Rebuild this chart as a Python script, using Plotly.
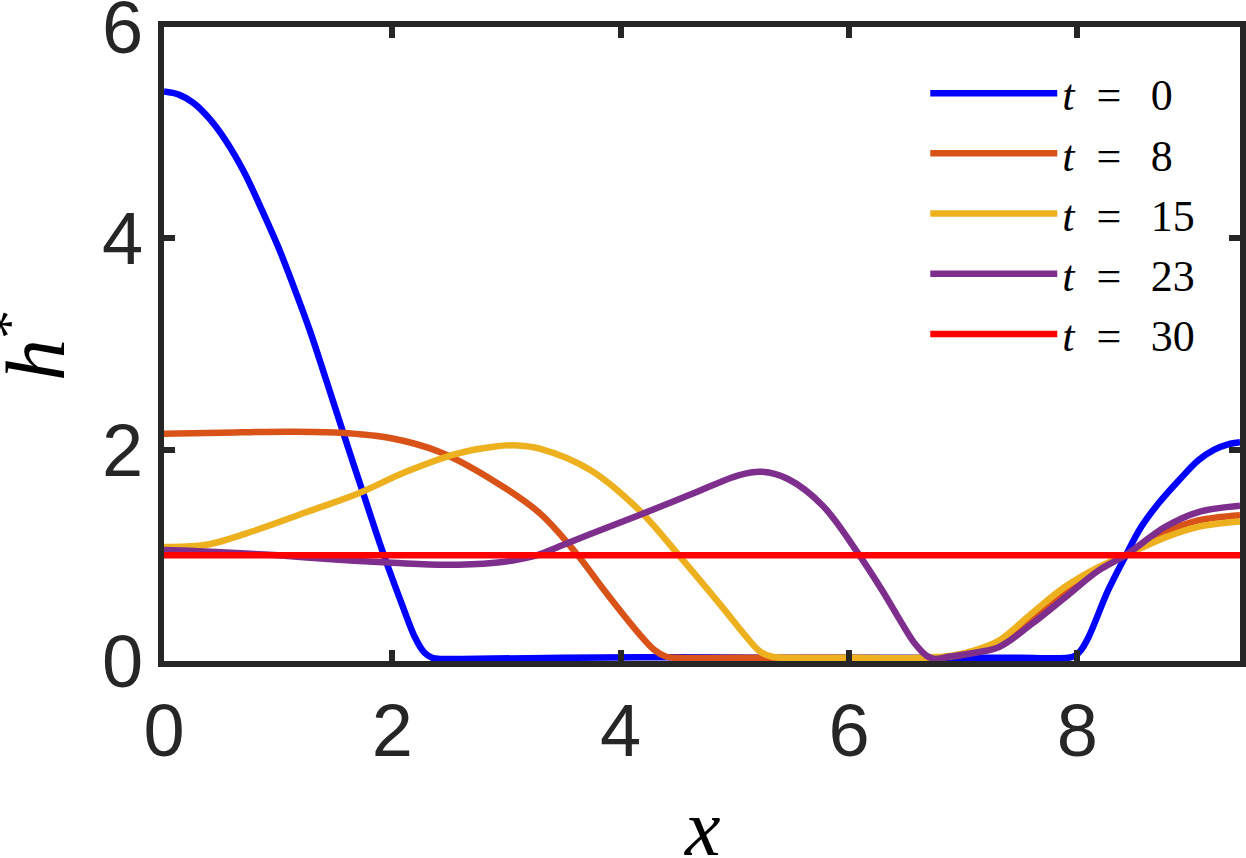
import plotly.graph_objects as go

# ---- data ----
labels = ["<i>t</i>\u2002=\u2002\u20060", "<i>t</i>\u2002=\u2002\u20068", "<i>t</i>\u2002=\u2002\u200615",
          "<i>t</i>\u2002=\u2002\u200623", "<i>t</i>\u2002=\u2002\u200630"]
colors = ["#0000FF", "#D95319", "#EDB120", "#7E2F8E", "#FF0000"]

x_t0 = [0, 0.13, 0.26, 0.4, 0.55, 0.7, 0.84, 1.0, 1.13, 1.28, 1.42, 1.57, 1.75, 1.92, 2.09, 2.2,
        2.28, 2.35, 2.42, 2.6, 3.5, 4.5, 5.5, 6.5, 7.5, 7.92, 7.98, 8.03, 8.10, 8.27, 8.42, 8.56,
        8.71, 8.89, 9.06, 9.2, 9.32, 9.4248]
h_t0 = [5.39, 5.36, 5.28, 5.13, 4.91, 4.63, 4.31, 3.92, 3.56, 3.12, 2.66, 2.16, 1.57, 1.02, 0.52, 0.22,
        0.08, 0.03, 0.02, 0.02, 0.03, 0.035, 0.03, 0.03, 0.03, 0.03, 0.05, 0.10, 0.23, 0.67, 0.99, 1.27,
        1.49, 1.71, 1.90, 2.0, 2.05, 2.07]

x_t8 = [0, 0.5, 1.1, 1.54, 1.98, 2.41, 2.85, 3.29, 3.61, 3.87, 4.16, 4.30, 4.40, 4.5, 5.0, 6.0,
        6.8, 7.05, 7.31, 7.60, 7.89, 8.19, 8.42, 8.77, 9.06, 9.4248]
h_t8 = [2.15, 2.16, 2.17, 2.16, 2.11, 1.98, 1.73, 1.40, 1.02, 0.65, 0.26, 0.10, 0.04, 0.03, 0.03, 0.03,
        0.03, 0.07, 0.16, 0.40, 0.65, 0.87, 1.0, 1.22, 1.33, 1.38]

x_t15 = [0, 0.37, 0.81, 1.25, 1.69, 2.12, 2.56, 2.9, 3.1, 3.29, 3.73, 4.16, 4.51, 4.89, 5.1, 5.22,
         5.33, 5.5, 6.0, 6.6, 6.9, 7.1, 7.31, 7.60, 7.89, 8.19, 8.42, 8.77, 9.06, 9.4248]
h_t15 = [1.08, 1.10, 1.24, 1.41, 1.58, 1.79, 1.96, 2.03, 2.04, 2.01, 1.81, 1.43, 1.0, 0.51, 0.23, 0.09,
         0.04, 0.03, 0.03, 0.03, 0.05, 0.10, 0.19, 0.45, 0.70, 0.89, 1.0, 1.17, 1.27, 1.32]

x_t23 = [0, 0.5, 1.0, 1.5, 2.0, 2.47, 2.9, 3.1, 3.29, 3.5, 3.73, 4.16, 4.6, 5.04, 5.24, 5.47, 5.77,
         6.06, 6.29, 6.45, 6.58, 6.68, 6.75, 6.87, 7.05, 7.31, 7.60, 7.89, 8.19, 8.42, 8.77, 9.06, 9.4248]
h_t23 = [1.05, 1.03, 1.0, 0.96, 0.93, 0.91, 0.93, 0.96, 1.01, 1.10, 1.20, 1.38, 1.57, 1.76, 1.79, 1.72,
         1.47, 1.05, 0.67, 0.38, 0.16, 0.05, 0.02, 0.04, 0.07, 0.13, 0.35, 0.60, 0.86, 1.0, 1.27, 1.41, 1.47]

x_t30 = [0, 9.4248]
h_t30 = [1.0, 1.0]

xs = [x_t0, x_t8, x_t15, x_t23, x_t30]
hs = [h_t0, h_t8, h_t15, h_t23, h_t30]

x_ticks = [0, 2, 4, 6, 8]
y_ticks = [0, 2, 4, 6]
x_title = "<i>x</i>"
y_title = "<i>h</i><sup>*</sup>"

fig = go.Figure()
for i, (xv, hv) in enumerate(zip(xs, hs)):
    fig.add_trace(go.Scatter(
        x=xv, y=hv, mode="lines", name=labels[i], legendgroup=str(i),
        line=dict(color=colors[i], width=6.5, shape="spline", smoothing=1.0),
    ))

axis_common = dict(
    showline=True, linewidth=6, linecolor="#262626", mirror="allticks",
    ticks="inside", ticklen=11, tickwidth=6, tickcolor="#262626",
    showgrid=False, zeroline=False, automargin=False, ticklabeloverflow="allow",
    tickfont=dict(family="Liberation Sans, Arial, sans-serif", size=74, color="#262626"),
)

serif = "Liberation Serif"

fig.update_xaxes(range=[0, 9.4248], tickvals=x_ticks, ticktext=[str(v) for v in x_ticks], **axis_common)
fig.update_yaxes(range=[0, 6], tickvals=y_ticks, ticktext=[str(v) for v in y_ticks], **axis_common)

# axis titles placed as paper annotations (axis titles are clamped inside the margins)
fig.add_annotation(text=x_title, xref="paper", yref="paper", x=0.5, y=-0.263,
                   xanchor="center", yanchor="middle", showarrow=False,
                   font=dict(family=serif, size=80, color="#000000"))
fig.add_annotation(text=y_title, xref="paper", yref="paper", x=-0.1245, y=0.497,
                   xanchor="center", yanchor="middle", showarrow=False, textangle=-90,
                   font=dict(family=serif, size=84, color="#000000"))

fig.update_layout(
    template="none",
    width=1246, height=858,
    margin=dict(l=164, r=6, t=27, b=197, autoexpand=False),
    paper_bgcolor="white", plot_bgcolor="white",
    showlegend=True,
    legend=dict(
        x=0.7075, y=0.951, xanchor="left", yanchor="top",
        bgcolor="rgba(0,0,0,0)", borderwidth=0,
        font=dict(family=serif, size=44, color="#000000"),
        itemwidth=127, traceorder="grouped", tracegroupgap=0,
    ),
)

# remove the browser's default 8px page margin so the figure fills the window exactly
fig.write_html("out.html", config={"displayModeBar": False},
               post_script="document.body.style.margin='0px';")
